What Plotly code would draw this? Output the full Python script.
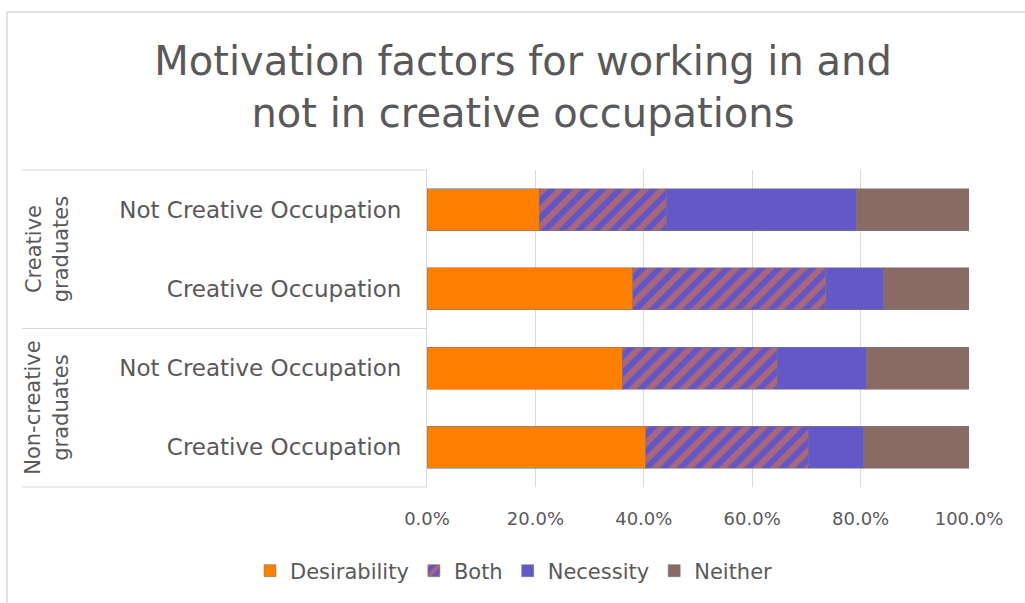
import plotly.graph_objects as go

# ---- data ----
row_keys = ["cg_not", "cg_cre", "ng_not", "ng_cre"]          # top to bottom
row_labels = ["Not Creative Occupation", "Creative Occupation",
              "Not Creative Occupation", "Creative Occupation"]
groups = ["Creative<br>graduates", "Non-creative<br>graduates"]
series = ["Desirability", "Both", "Necessity", "Neither"]
desirability = [0.207, 0.380, 0.360, 0.404]
both = [0.234, 0.356, 0.286, 0.299]
necessity = [0.351, 0.107, 0.164, 0.103]
neither = [0.208, 0.157, 0.190, 0.194]
x_ticks = [0, 0.2, 0.4, 0.6, 0.8, 1.0]
x_ticklabels = ["0.0%", "20.0%", "40.0%", "60.0%", "80.0%", "100.0%"]

# ---- geometry (pixels) ----
W, H = 1025, 603
PL, PR, PT, PB = 427, 969, 170, 487
pw, ph = PR - PL, PB - PT


def px(xp):
    return (xp - PL) / pw


def py(yp):
    return (PB - yp) / ph


FONT = "DejaVu Sans"
TXT = "#595959"
line_col = "#d9d9d9"

fig = go.Figure()
common_line = dict(color="rgba(120,120,120,0.55)", width=1)
fig.add_trace(go.Bar(name=series[0], y=row_keys, x=desirability, orientation="h",
                     marker=dict(color="#FF8000", line=common_line)))
fig.add_trace(go.Bar(name=series[1], y=row_keys, x=both, orientation="h",
                     marker=dict(color="#6455C4", line=common_line,
                                 pattern=dict(shape="/", fgcolor="#EC7A34",
                                              size=12, solidity=0.5))))
fig.add_trace(go.Bar(name=series[2], y=row_keys, x=necessity, orientation="h",
                     marker=dict(color="#6457C8", line=common_line)))
fig.add_trace(go.Bar(name=series[3], y=row_keys, x=neither, orientation="h",
                     marker=dict(color="#8A6A64", line=common_line)))

shapes = []
# outer chart border (left and top, cropped at right/bottom)
shapes.append(dict(type="line", xref="paper", yref="paper",
                   x0=px(7), x1=px(7), y0=py(12), y1=py(H + 5),
                   line=dict(color="#d9d9d9", width=1.5)))
shapes.append(dict(type="line", xref="paper", yref="paper",
                   x0=px(7), x1=px(W + 5), y0=py(12), y1=py(12),
                   line=dict(color="#d9d9d9", width=1.5)))
# category table lines
for yp in (PT, (PT + PB) / 2, PB):
    shapes.append(dict(type="line", xref="paper", yref="paper",
                       x0=px(22), x1=px(PL), y0=py(yp), y1=py(yp),
                       line=dict(color=line_col, width=1.2)))

annotations = []
for i, g in enumerate(groups):
    yc = PT + ph / 4 + i * ph / 2
    annotations.append(dict(text=g, xref="paper", yref="paper",
                            x=px(47), y=py(yc), textangle=-90, showarrow=False,
                            font=dict(family=FONT, size=21, color=TXT),
                            xanchor="center", yanchor="middle"))

fig.update_layout(
    width=W, height=H,
    margin=dict(l=PL, r=W - PR, t=PT, b=H - PB, pad=0),
    barmode="stack", bargap=0.47,
    paper_bgcolor="white", plot_bgcolor="white",
    font=dict(family=FONT, color=TXT),
    title=dict(text="Motivation factors for working in and<br>not in creative occupations",
               x=523 / W, xanchor="center", xref="container",
               y=1 - 75 / H, yanchor="middle",
               font=dict(family=FONT, size=40, color=TXT)),
    xaxis=dict(range=[0, 1], tickvals=x_ticks, ticktext=x_ticklabels,
               showgrid=True, gridcolor=line_col, gridwidth=1, zeroline=False,
               ticks="outside", ticklen=15, tickcolor="rgba(0,0,0,0)",
               tickfont=dict(family=FONT, size=18, color=TXT), fixedrange=True),
    yaxis=dict(categoryorder="array", categoryarray=row_keys[::-1],
               tickvals=row_keys, ticktext=row_labels,
               showline=True, linecolor=line_col, linewidth=1.2,
               ticks="outside", ticklen=20, tickcolor="rgba(0,0,0,0)",
               tickfont=dict(family=FONT, size=23, color=TXT), fixedrange=True),
    legend=dict(orientation="h", x=px(250), xanchor="left", y=py(571), yanchor="middle",
                font=dict(family=FONT, size=21, color=TXT), traceorder="normal",
                itemwidth=30, bgcolor="rgba(0,0,0,0)"),
    shapes=shapes, annotations=annotations,
)

fig.write_html("out.html", config={"displayModeBar": False},
               post_script="document.body.style.margin='0';document.body.style.overflow='hidden';")
